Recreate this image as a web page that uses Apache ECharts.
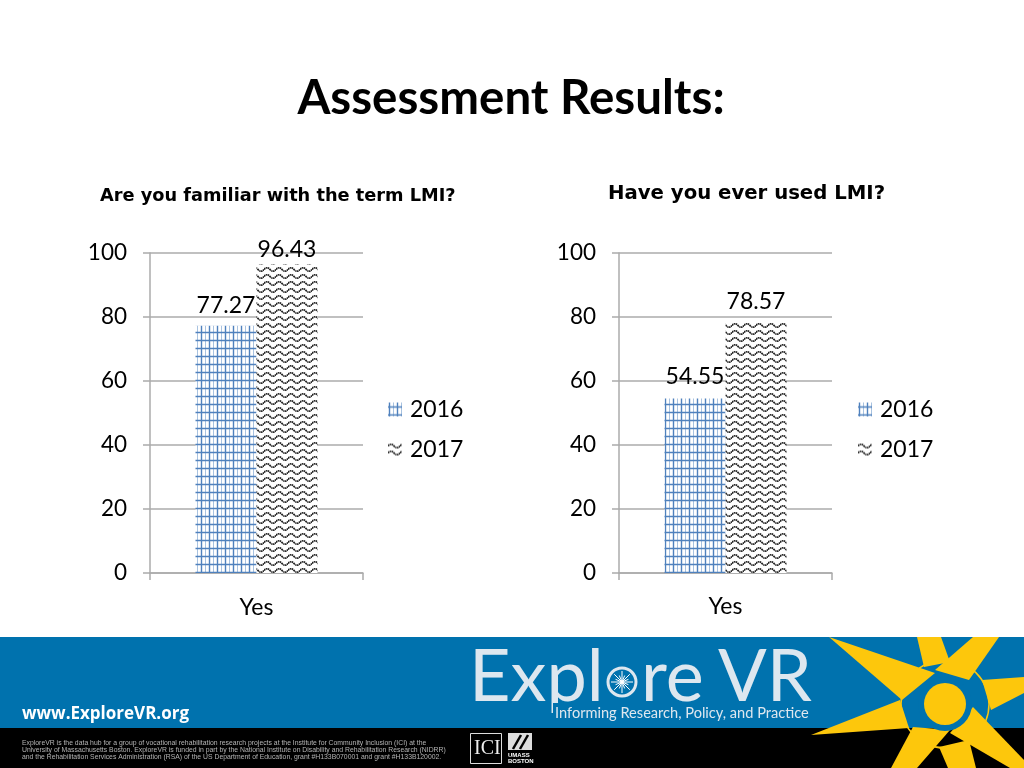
<!DOCTYPE html>
<html><head><meta charset="utf-8">
<style>html,body{margin:0;padding:0;background:#fff}#c{width:1024px;height:768px}</style>
<script src="https://cdn.jsdelivr.net/npm/echarts@6/dist/echarts.min.js"></script>
</head><body><div id="c"></div>
<script>
const categories = ['Yes'];
const seriesNames = ['2016', '2017'];
const leftValues2016 = [77.27];
const leftValues2017 = [96.43];
const rightValues2016 = [54.55];
const rightValues2017 = [78.57];
const yTicks = [0, 20, 40, 60, 80, 100];
const mainTitle = 'Assessment Results:';
const leftTitle = 'Are you familiar with the term LMI?';
const rightTitle = 'Have you ever used LMI?';

function tile(w, h, draw) {
  const c = document.createElement('canvas');
  c.width = w; c.height = h;
  draw(c.getContext('2d'));
  return { image: c, repeat: 'repeat' };
}
const gridFill = tile(8, 8, g => {
  g.fillStyle = '#fff'; g.fillRect(0, 0, 8, 8);
  g.strokeStyle = '#a8c2e0'; g.lineWidth = 1;
  g.beginPath(); g.moveTo(5.5, 0); g.lineTo(5.5, 8); g.stroke();
  g.strokeStyle = '#4f81bd'; g.lineWidth = 1.4;
  g.beginPath();
  g.moveTo(1.5, 0); g.lineTo(1.5, 8);
  g.moveTo(0, 4.5); g.lineTo(8, 4.5);
  g.stroke();
});
const waveFill = tile(12, 7, g => {
  g.fillStyle = '#fff'; g.fillRect(0, 0, 12, 7);
  g.strokeStyle = '#1c1c1c'; g.lineWidth = 1.7; g.setLineDash([1.6, 0.5]);
  g.beginPath();
  g.moveTo(0, 3.5);
  g.quadraticCurveTo(3, 0, 6, 3.5);
  g.quadraticCurveTo(9, 7, 12, 3.5);
  g.stroke();
});

const axisGray = '#ababab';
const font = 'Lato, Carlito, sans-serif';
const headFont = '"DejaVu Sans", sans-serif';

function barSeries(name, values, fill, idx, dist) {
  return {
    name, type: 'bar', xAxisIndex: idx, yAxisIndex: idx,
    data: values, barWidth: 61, barGap: 0,
    itemStyle: { color: fill, borderWidth: 0 },
    label: { show: true, position: 'top', distance: dist, color: '#000', fontSize: 23, fontFamily: font },
    emphasis: { disabled: true }
  };
}
function xAxis(idx, margin) {
  return {
    type: 'category', gridIndex: idx, data: categories,
    axisLine: { lineStyle: { color: axisGray, width: 1.5 } },
    axisTick: { show: true, length: 7, lineStyle: { color: axisGray, width: 1.5 } },
    axisLabel: { color: '#000', fontSize: 23, fontFamily: font, margin }
  };
}
function yAxis(idx) {
  return {
    type: 'value', gridIndex: idx, min: yTicks[0], max: yTicks[yTicks.length - 1], interval: yTicks[1] - yTicks[0],
    axisLine: { show: true, lineStyle: { color: axisGray, width: 1.5 } },
    axisTick: { show: true, length: 7, lineStyle: { color: axisGray, width: 1.5 } },
    axisLabel: { color: '#000', fontSize: 22.5, fontFamily: font, margin: 23, padding: [2, 0, 0, 0] },
    splitLine: { show: true, lineStyle: { color: axisGray, width: 1.5 } }
  };
}
function legend(left) {
  return {
    data: seriesNames, orient: 'vertical', left, top: 398, padding: 0, itemWidth: 14, itemHeight: 14, itemGap: 17,
    selectedMode: false, icon: 'rect',
    textStyle: { color: '#000', fontSize: 23, fontFamily: font, padding: [0, 0, 0, 3] }
  };
}

/* ---- footer decoration ---- */
const BLUE = '#0072ae', YEL = '#fdc70c', PALE = '#dde7ef';
const rays = [
  [[829,637],[935,673],[902,700]],
  [[917,637],[941,637],[950,662],[924,667]],
  [[973,637],[999,637],[969,680],[935,670]],
  [[1024,677],[1024,693],[991,710],[982,680]],
  [[973,707],[950,733],[1010,768],[1024,768],[1024,760]],
  [[939,747],[969,740],[976,768],[948,768]],
  [[913,727],[950,730],[917,768],[891,768]],
  [[811,735],[900,700],[909,728]]
];
const txt = (text, x, y, fill, f, extra) => ({ type: 'text', silent: true, style: Object.assign({ text, x, y, fill, font: f, textVerticalAlign: 'middle' }, extra || {}) });
const rect = (x, y, w, h, fill, stroke) => ({ type: 'rect', silent: true, shape: { x, y, width: w, height: h }, style: { fill, stroke } });
const circ = (cx, cy, r, fill, stroke, lineWidth) => ({ type: 'circle', silent: true, shape: { cx, cy, r }, style: { fill, stroke, lineWidth } });
const seg = (x1, y1, x2, y2, stroke, lineWidth) => ({ type: 'line', silent: true, shape: { x1, y1, x2, y2 }, style: { stroke, lineWidth } });
const compass = [];
for (let i = 0; i < 16; i++) {
  const a = i * Math.PI / 8, r = i % 2 ? 7 : 11;
  compass.push(seg(622, 682, 622 + r * Math.cos(a), 682 + r * Math.sin(a), '#fff', 1));
}
const legal = [
  'ExploreVR is the data hub for a group of vocational rehabilitation research projects at the Institute for Community Inclusion (ICI) at the',
  'University of Massachusetts Boston. ExploreVR is funded in part by the National Institute on Disability and Rehabilitation Research (NIDRR)',
  'and the Rehabilitation Services Administration (RSA) of the US Department of Education, grant #H133B070001 and grant #H133B120002.'
];
const graphics = [
  rect(0, 637, 1024, 91, BLUE),
  rect(0, 728, 1024, 40, '#000'),
  circ(945, 704, 44, 'transparent', YEL, 1.5),
  ...rays.map(p => ({ type: 'polygon', silent: true, shape: { points: p }, style: { fill: YEL } })),
  circ(945, 704, 27, BLUE),
  circ(945, 704, 21, YEL),
  txt('Expl', 469, 678, PALE, '400 72px Lato'),
  circ(622, 682, 14, BLUE, PALE, 3),
  ...compass,
  txt('re', 641, 678, PALE, '400 72px Lato'),
  txt('VR', 718, 678, PALE, '400 72px Lato'),
  rect(553, 703, 256, 20, BLUE),
  txt('Informing Research, Policy, and Practice', 555, 713, PALE, '400 14.6px Lato'),
  txt('www.ExploreVR.org', 22, 714, '#fff', 'bold 17px "Open Sans"'),
  ...legal.map((s, i) => txt(s, 22, 743 + i * 7.2, '#b5b5b5', '6.85px "Liberation Sans"')),
  rect(470.5, 733.5, 31, 30, '#000', '#ddd'),
  txt('ICI', 474, 749, '#eee', '20px "Liberation Serif"'),
  rect(508, 733, 24, 17, '#ddd'),
  seg(513, 749, 521, 735, '#000', 2.5),
  seg(520, 749, 528, 735, '#000', 2.5),
  txt('UMASS', 508, 755, '#fff', 'bold 6px "Liberation Sans"'),
  txt('BOSTON', 508, 761, '#fff', 'bold 6px "Liberation Sans"')
];

const chart = echarts.init(document.getElementById('c'), null, { width: 1024, height: 768 });
chart.setOption({
  animation: false,
  backgroundColor: '#fff',
  title: [
    { text: mainTitle, left: 511, top: 75, padding: 0, textAlign: 'center', textStyle: { fontFamily: 'Lato, sans-serif', fontWeight: 'bold', fontSize: 47.5, color: '#000' } },
    { text: leftTitle, left: 100, top: 187, padding: 0, textStyle: { fontFamily: headFont, fontWeight: 'bold', fontSize: 17.75, color: '#000' } },
    { text: rightTitle, left: 608, top: 184, padding: 0, textStyle: { fontFamily: headFont, fontWeight: 'bold', fontSize: 19.7, color: '#000' } }
  ],
  legend: [legend(388), legend(858)],
  grid: [
    { left: 150, top: 253, width: 213, height: 320 },
    { left: 619, top: 253, width: 213, height: 320 }
  ],
  xAxis: [xAxis(0, 23), xAxis(1, 22)],
  yAxis: [yAxis(0), yAxis(1)],
  series: [
    barSeries(seriesNames[0], leftValues2016, gridFill, 0, 9),
    barSeries(seriesNames[1], leftValues2017, waveFill, 0, 3),
    barSeries(seriesNames[0], rightValues2016, gridFill, 1, 10),
    barSeries(seriesNames[1], rightValues2017, waveFill, 1, 8)
  ],
  graphic: { elements: graphics }
});
</script></body></html>
